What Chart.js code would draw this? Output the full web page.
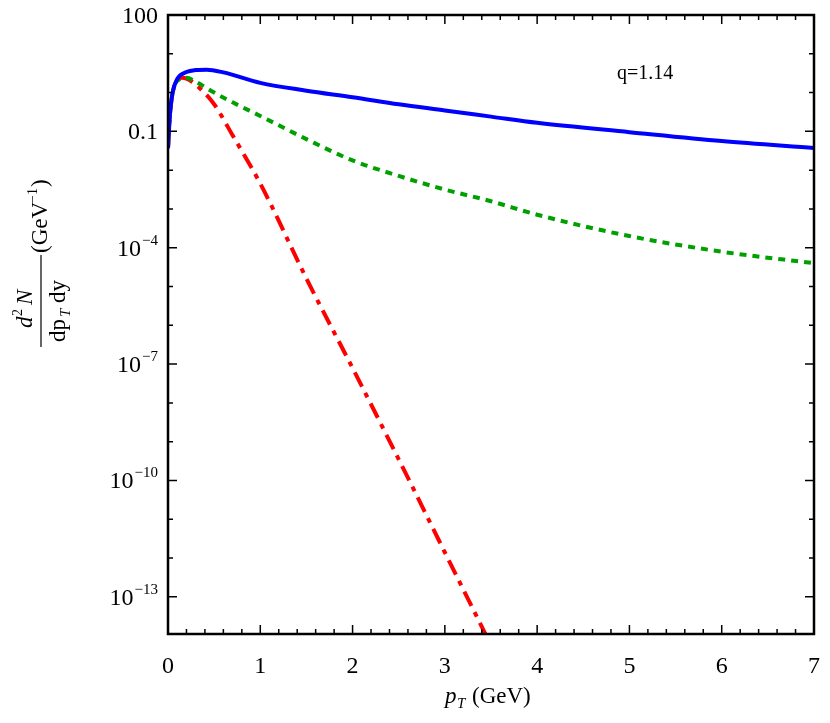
<!DOCTYPE html>
<html><head><meta charset="utf-8">
<script src="https://cdn.jsdelivr.net/npm/chart.js@4"></script>
<style>html,body{margin:0;padding:0;background:#fff}#w{width:830px;height:723px}</style>
</head><body><div id="w"><canvas id="c"></canvas></div>
<script>
const bluePT = [0,0.02,0.05,0.1,0.2,0.3,0.42,0.6,1,1.5,2,2.5,3,3.5,4,5,6,7];
const blue = [0.037,0.25,1.0,2.24,3.39,3.8,3.89,3.31,1.78,1.12,0.76,0.50,0.347,0.24,0.166,0.0955,0.0562,0.0372];
const greenPT = [0,0.02,0.05,0.1,0.2,0.3,0.5,0.7,1,1.5,2,2.5,3,3.5,4,5,6,7];
const green = [0.037,0.25,1.0,2.0,2.4,1.9,1.0,0.56,0.25,0.063,0.0178,7.1e-3,3.16e-3,1.58e-3,7.1e-4,2.0e-4,7.9e-5,4.0e-5];
const redPT = [0,0.02,0.05,0.1,0.15,0.2,0.3,0.5,0.7,1,1.5,2,2.5,3,3.5];
const red = [0.037,0.25,1.0,2.0,2.4,2.3,1.6,0.5,0.079,4.5e-3,1.6e-5,7.9e-8,3.5e-10,1.4e-12,5.6e-15];
const yTicks = [100,0.1,1e-4,1e-7,1e-10,1e-13];
const yTickBase = ['100','0.1','10','10','10','10'];
const yTickExp = ['','','−4','−7','−10','−13'];
const xTicks = [0,1,2,3,4,5,6,7];
const pts = (xs,ys)=>xs.map((x,i)=>({x,y:ys[i]}));
const F = 'Liberation Serif';
const deco = {id:'deco',afterDraw(ch){
  const c=ch.ctx,a=ch.chartArea,xs=ch.scales.x,ys=ch.scales.y;
  c.save();c.strokeStyle='#000';c.lineWidth=2.5;
  c.strokeRect(a.left,a.top,a.right-a.left,a.bottom-a.top);
  c.lineWidth=1.5;
  for(let v=0;v<=7.001;v+=0.2){const px=xs.getPixelForValue(v);const L=Math.abs(v-Math.round(v))<1e-6?9:5;
    c.beginPath();c.moveTo(px,a.bottom);c.lineTo(px,a.bottom-L);c.moveTo(px,a.top);c.lineTo(px,a.top+L);c.stroke();}
  for(let e=-13;e<=2;e++){const py=ys.getPixelForValue(Math.pow(10,e));const L=((e+13)%3===0)?9:5;
    c.beginPath();c.moveTo(a.left,py);c.lineTo(a.left+L,py);c.moveTo(a.right,py);c.lineTo(a.right-L,py);c.stroke();}
  c.fillStyle='#000';c.textBaseline='alphabetic';
  // y tick labels
  yTicks.forEach((t,i)=>{const py=ys.getPixelForValue(t)+8;let xr=a.left-10;
    c.textAlign='right';
    if(yTickExp[i]){c.font='15px "'+F+'"';const w=c.measureText(yTickExp[i]).width;c.fillText(yTickExp[i],xr,py-11);xr-=w+1;}
    c.font='24px "'+F+'"';c.fillText(yTickBase[i],xr,py);});
  c.textAlign='left';
  c.font='20px "'+F+'"';c.fillText('q=1.14',617,79);
  c.font='italic 23px "'+F+'"';c.fillText('p',445,703);
  c.font='italic 15px "'+F+'"';c.fillText('T',457,708);
  c.font='23px "'+F+'"';c.fillText('(GeV)',472,703);
  c.translate(45,300);c.rotate(-Math.PI/2);
  c.font='italic 23px "'+F+'"';c.fillText('d',-28,-13);
  c.font='14px "'+F+'"';c.fillText('2',-16,-23);
  c.font='italic 23px "'+F+'"';c.fillText('N',-5,-13);
  c.lineWidth=1.2;c.beginPath();c.moveTo(-47,-4);c.lineTo(45,-4);c.stroke();
  c.font='23px "'+F+'"';c.fillText('dp',-42,20);
  c.font='italic 15px "'+F+'"';c.fillText('T',-17,25);
  c.font='23px "'+F+'"';c.fillText('dy',-3,20);
  c.fillText('(GeV',47,2);c.font='14px "'+F+'"';c.fillText('−1',97,-8);c.font='23px "'+F+'"';c.fillText(')',113,2);
  c.restore();}};
function make(){
new Chart(document.getElementById('c'),{type:'line',
 data:{datasets:[
  {data:pts(bluePT,blue),borderColor:'#0000ff',borderWidth:4,pointRadius:0,cubicInterpolationMode:'monotone'},
  {data:pts(greenPT,green),borderColor:'#00a000',borderWidth:4,borderDash:[7,6],pointRadius:0,cubicInterpolationMode:'monotone'},
  {data:pts(redPT,red),borderColor:'#ff0000',borderWidth:4,borderDash:[16,7,5,7],pointRadius:0,cubicInterpolationMode:'monotone'}]},
 options:{responsive:true,maintainAspectRatio:false,animation:false,
  layout:{padding:{top:15,right:12,left:0,bottom:0}},
  plugins:{legend:{display:false},tooltip:{enabled:false}},
  scales:{
   x:{type:'linear',min:0,max:7,grid:{display:false},border:{display:false},
      afterBuildTicks:s=>{s.ticks=xTicks.map(v=>({value:v}));},
      afterFit:s=>{s.height=89;},
      ticks:{color:'#000',font:{family:F,size:24},padding:10,maxRotation:0}},
   y:{type:'logarithmic',min:1.1e-14,max:100,grid:{display:false},border:{display:false},
      afterBuildTicks:s=>{s.ticks=yTicks.map(v=>({value:v}));},
      afterFit:s=>{s.width=168;},
      ticks:{display:false}}}},
 plugins:[deco]});
}
Promise.all([document.fonts.load('24px "Liberation Serif"'),document.fonts.load('italic 24px "Liberation Serif"')]).then(make,make);
</script></body></html>
